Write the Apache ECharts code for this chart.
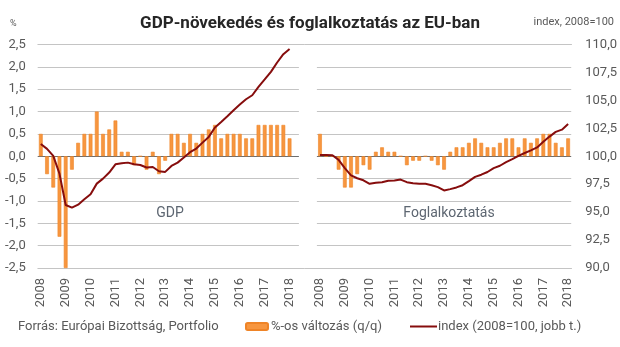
<!DOCTYPE html>
<html><head><meta charset="utf-8">
<script src="https://cdn.jsdelivr.net/npm/echarts@6/dist/echarts.min.js"></script>
<style>html,body{margin:0;padding:0;background:#fff}#c{width:620px;height:347px}</style>
</head><body><div id="c"></div>
<script>
const years = ['2008','2009','2010','2011','2012','2013','2014','2015','2016','2017','2018'];
const quarterNames = ['Q1','Q2','Q3','Q4'];
const quarters = [];
years.forEach(y => quarterNames.forEach(q => quarters.push(y + ' ' + q)));
quarters.length = 41; // 2008 Q1 – 2018 Q1

// GDP, quarterly % change (q/q)
const gdpChange = [0.5,-0.4,-0.7,-1.8,-2.5,-0.3,0.3,0.5,0.5,1.0,0.5,0.6,0.8,0.1,0.1,-0.2,0.0,-0.3,0.1,-0.4,
  -0.1,0.5,0.5,0.3,0.5,0.3,0.5,0.6,0.7,0.4,0.5,0.5,0.5,0.4,0.4,0.7,0.7,0.7,0.7,0.7,0.4];
// GDP index (2008=100)
const gdpIndex = [101.1,100.66,100.03,98.45,95.64,95.40,95.67,96.15,96.6,97.55,98.0,98.54,99.28,99.37,99.43,99.28,99.22,98.99,99.04,98.66,
  98.6,99.13,99.43,99.88,100.36,100.69,101.22,101.73,102.57,103.07,103.58,104.12,104.63,105.1,105.46,106.21,106.87,107.55,108.39,109.13,109.6];
// Employment, quarterly % change (q/q)
const empChange = [0.5,0.0,0.0,-0.3,-0.7,-0.7,-0.4,-0.2,-0.3,0.1,0.2,0.1,0.1,0.0,-0.2,-0.1,-0.1,0.0,-0.1,-0.2,
  -0.3,0.1,0.2,0.2,0.3,0.4,0.3,0.2,0.2,0.3,0.4,0.4,0.2,0.4,0.3,0.4,0.5,0.5,0.3,0.2,0.4];
// Employment index (2008=100)
const empIndex = [100.12,100.12,100.09,99.68,98.94,98.29,98.03,97.85,97.53,97.62,97.68,97.8,97.82,97.91,97.68,97.59,97.53,97.53,97.41,97.24,
  96.94,97.06,97.21,97.41,97.77,98.15,98.35,98.59,98.94,99.15,99.47,99.74,100.03,100.29,100.53,100.79,101.29,101.76,102.18,102.38,102.88];

const titleText = 'GDP-növekedés és foglalkoztatás az EU-ban';
const barName = '%-os változás (q/q)';
const lineName = 'index (2008=100, jobb t.)';
const sourceText = 'Forrás: Európai Bizottság, Portfolio';
const panelNames = ['GDP', 'Foglalkoztatás'];

const FONT = 'Roboto';
const LABEL = '#595959';
const GRIDC = '#c4c4c4';
const ZEROC = '#6e6e6e';
const BAR = '#F7963F';
const BARB = '#EF8427';
const LINE = '#860D0D';
const comma = v => v.toFixed(1).replace('.', ',');
const splitColors = [GRIDC,GRIDC,GRIDC,GRIDC,GRIDC,ZEROC,GRIDC,GRIDC,GRIDC,GRIDC,GRIDC];

const chart = echarts.init(document.getElementById('c'), null, {renderer: 'canvas'});
const xLabel = {interval: 3, rotate: 90, margin: 10, fontSize: 13, fontFamily: FONT, color: LABEL,
  formatter: v => v.slice(0, 4)};

chart.setOption({
  animation: false,
  backgroundColor: '#fff',
  textStyle: {fontFamily: FONT},
  title: {text: titleText, left: 'center', top: 10,
    textStyle: {fontSize: 17, fontWeight: 'bold', color: '#262626', fontFamily: FONT}},
  grid: [
    {left: 37.7, width: 261.2, top: 44.5, height: 223.5},
    {left: 316.9, width: 255, top: 44.5, height: 223.5},
    {left: 37.7, width: 534.2, top: 44.5, height: 223.5}
  ],
  xAxis: [
    {gridIndex: 0, type: 'category', data: quarters.concat(['']), axisLine: {show: false}, axisTick: {show: false}, axisLabel: xLabel},
    {gridIndex: 1, type: 'category', data: quarters, axisLine: {show: false}, axisTick: {show: false}, axisLabel: xLabel},
    {gridIndex: 2, type: 'value', show: false, min: 0, max: 1}
  ],
  yAxis: [
    {gridIndex: 0, type: 'value', min: -2.5, max: 2.5, interval: 0.5, axisLine: {show: false}, axisTick: {show: false},
      axisLabel: {formatter: comma, margin: 12, fontSize: 13, color: LABEL, fontFamily: FONT},
      splitLine: {lineStyle: {color: splitColors, width: 1}}},
    {gridIndex: 0, type: 'value', min: 90, max: 110, interval: 2.5, show: false, splitLine: {show: false}},
    {gridIndex: 1, type: 'value', min: -2.5, max: 2.5, interval: 0.5, axisLine: {show: false}, axisTick: {show: false},
      axisLabel: {show: false}, splitLine: {lineStyle: {color: splitColors, width: 1}}},
    {gridIndex: 1, type: 'value', position: 'right', min: 90, max: 110, interval: 2.5, axisLine: {show: false}, axisTick: {show: false},
      axisLabel: {formatter: comma, margin: 14, fontSize: 13, color: LABEL, fontFamily: FONT}, splitLine: {show: false}},
    {gridIndex: 2, type: 'value', min: -2.5, max: 2.5, interval: 5, axisLine: {show: false}, axisTick: {show: false},
      axisLabel: {show: false}, splitLine: {lineStyle: {color: GRIDC, width: 1}}}
  ],
  legend: [
    {data: [{name: barName}], left: 245, top: 320, padding: 0, itemWidth: 22, itemHeight: 7, itemGap: 0,
      textStyle: {fontSize: 13, color: LABEL, fontFamily: FONT, padding: [0, 0, 0, -2]}},
    {data: [{name: lineName, icon: 'rect'}], left: 410, top: 320, padding: 0, itemWidth: 27, itemHeight: 2, itemGap: 0,
      textStyle: {fontSize: 13, color: LABEL, fontFamily: FONT, padding: [0, 0, 0, -4]}}
  ],
  graphic: [
    {type: 'text', left: 10, top: 19, style: {text: '%', fontSize: 9, fill: LABEL, fontFamily: FONT}},
    {type: 'text', right: 6, top: 17, style: {text: 'index, 2008=100', fontSize: 11, fill: LABEL, fontFamily: FONT}},
    {type: 'text', left: 18, top: 320, style: {text: sourceText, fontSize: 13, fill: LABEL, fontFamily: FONT}},
    {type: 'text', x: 170, y: 213, style: {text: panelNames[0], fontSize: 14, fill: '#5d6671', fontFamily: FONT, align: 'center', verticalAlign: 'middle'}},
    {type: 'text', x: 449, y: 213, style: {text: panelNames[1], fontSize: 14, fill: '#5d6671', fontFamily: FONT, align: 'center', verticalAlign: 'middle'}}
  ],
  series: [
    {name: barName, type: 'bar', xAxisIndex: 0, yAxisIndex: 0, data: gdpChange, barWidth: '60%',
      itemStyle: {color: BAR, borderColor: BARB, borderWidth: 0.6}},
    {name: lineName, type: 'line', xAxisIndex: 0, yAxisIndex: 1, data: gdpIndex, symbol: 'none',
      lineStyle: {color: LINE, width: 2}, itemStyle: {color: LINE}, z: 3},
    {name: barName, type: 'bar', xAxisIndex: 1, yAxisIndex: 2, data: empChange, barWidth: '60%',
      itemStyle: {color: BAR, borderColor: BARB, borderWidth: 0.6}},
    {name: lineName, type: 'line', xAxisIndex: 1, yAxisIndex: 3, data: empIndex, symbol: 'none',
      lineStyle: {color: LINE, width: 2}, itemStyle: {color: LINE}, z: 3}
  ]
});
</script>
</body></html>
